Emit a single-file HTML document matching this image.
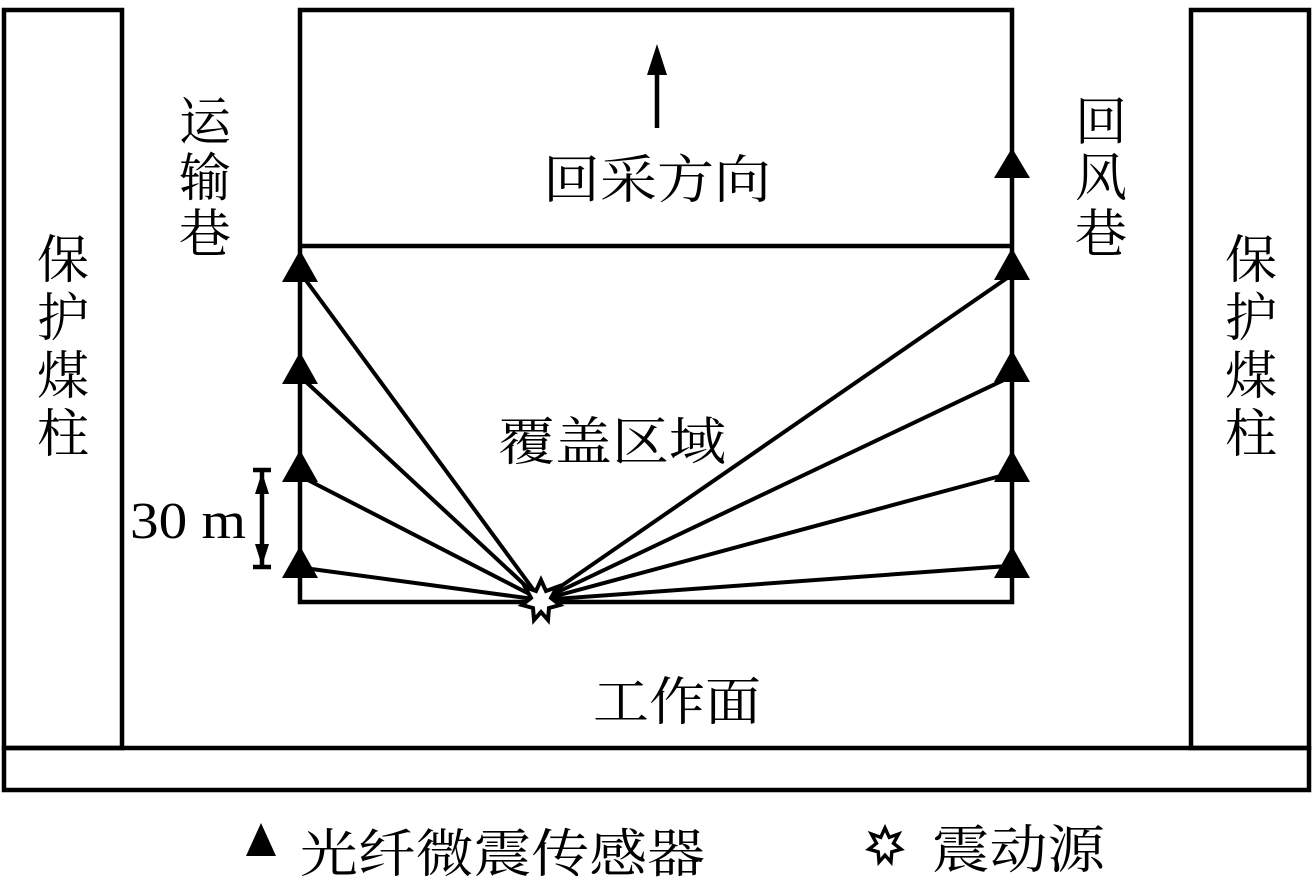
<!DOCTYPE html>
<html><head><meta charset="utf-8"><style>
html,body{margin:0;padding:0;background:#fff;}
svg{display:block;}
text{font-family:"Liberation Serif","Noto Serif CJK SC",serif;fill:#000;}
</style></head><body>
<svg width="1313" height="882" viewBox="0 0 1313 882" xmlns="http://www.w3.org/2000/svg">
<g fill="none" stroke="#000" stroke-width="4.5">
<rect x="4" y="10" width="118" height="738"/>
<rect x="1191" y="10" width="118" height="738"/>
<rect x="4" y="748" width="1305" height="42"/>
<rect x="300" y="10" width="712" height="592"/>
<line x1="300" y1="246" x2="1012" y2="246"/>
<g stroke-width="4">
<line x1="541" y1="600" x2="302" y2="275"/>
<line x1="541" y1="600" x2="304" y2="380"/>
<line x1="541" y1="600" x2="304" y2="478"/>
<line x1="541" y1="600" x2="304" y2="568"/>
<line x1="541" y1="600" x2="1010" y2="276"/>
<line x1="541" y1="600" x2="1008" y2="378"/>
<line x1="541" y1="600" x2="1008" y2="474"/>
<line x1="541" y1="600" x2="1008" y2="566"/>
</g>
<line x1="657" y1="128" x2="657" y2="70"/>
<line x1="262" y1="472" x2="262" y2="566"/>
<line x1="253" y1="470" x2="271" y2="470"/>
<line x1="253" y1="567" x2="271" y2="567"/>
</g>
<g fill="#000">
<polygon points="657,44 647,75 667,75"/>
<polygon points="262,472 255,494 269,494"/>
<polygon points="262,566 255,544 269,544"/>
<polygon points="300,250 282,282 318,282"/>
<polygon points="300,352 282,384 318,384"/>
<polygon points="300,450 282,482 318,482"/>
<polygon points="300,546 282,578 318,578"/>
<polygon points="1012,148 994,178 1030,178"/>
<polygon points="1012,248 994,280 1030,280"/>
<polygon points="1012,350 994,382 1030,382"/>
<polygon points="1012,450 994,482 1030,482"/>
<polygon points="1012,546 994,578 1030,578"/>
<polygon points="261,823 246,856 276,856"/>
</g>
<g fill="#fff" stroke="#000" stroke-width="4">
<polygon points="541,580 546,591 557,587 551,598 560,605 549,608 548,620 541,612 534,620 533,608 522,605 531,598 525,587 536,591"/>
<polygon transform="translate(885,845) scale(0.85) translate(-541,-600)" points="541,580 546,591 557,587 551,598 560,605 549,608 548,620 541,612 534,620 533,608 522,605 531,598 525,587 536,591"/>
</g>
<g font-size="52" text-anchor="middle">
<text x="205" y="140">运</text><text x="205" y="196">输</text><text x="205" y="252">巷</text>
<text x="1101" y="140">回</text><text x="1101" y="196">风</text><text x="1101" y="252">巷</text>
<text x="63" y="278">保</text><text x="63" y="336">护</text><text x="63" y="394">煤</text><text x="63" y="452">柱</text>
<text x="1251" y="278">保</text><text x="1251" y="336">护</text><text x="1251" y="394">煤</text><text x="1251" y="452">柱</text>
<text x="657" y="198" textLength="228" lengthAdjust="spacingAndGlyphs">回采方向</text>
<text x="612" y="460" textLength="228" lengthAdjust="spacingAndGlyphs">覆盖区域</text>
<text x="677" y="720" textLength="168" lengthAdjust="spacingAndGlyphs">工作面</text>
<text x="188" y="538" textLength="116" lengthAdjust="spacingAndGlyphs">30 m</text>
</g>
<g font-size="52">
<text x="300" y="872" textLength="405" lengthAdjust="spacingAndGlyphs">光纤微震传感器</text>
<text x="932" y="868" textLength="173" lengthAdjust="spacingAndGlyphs">震动源</text>
</g>
</svg>
</body></html>
